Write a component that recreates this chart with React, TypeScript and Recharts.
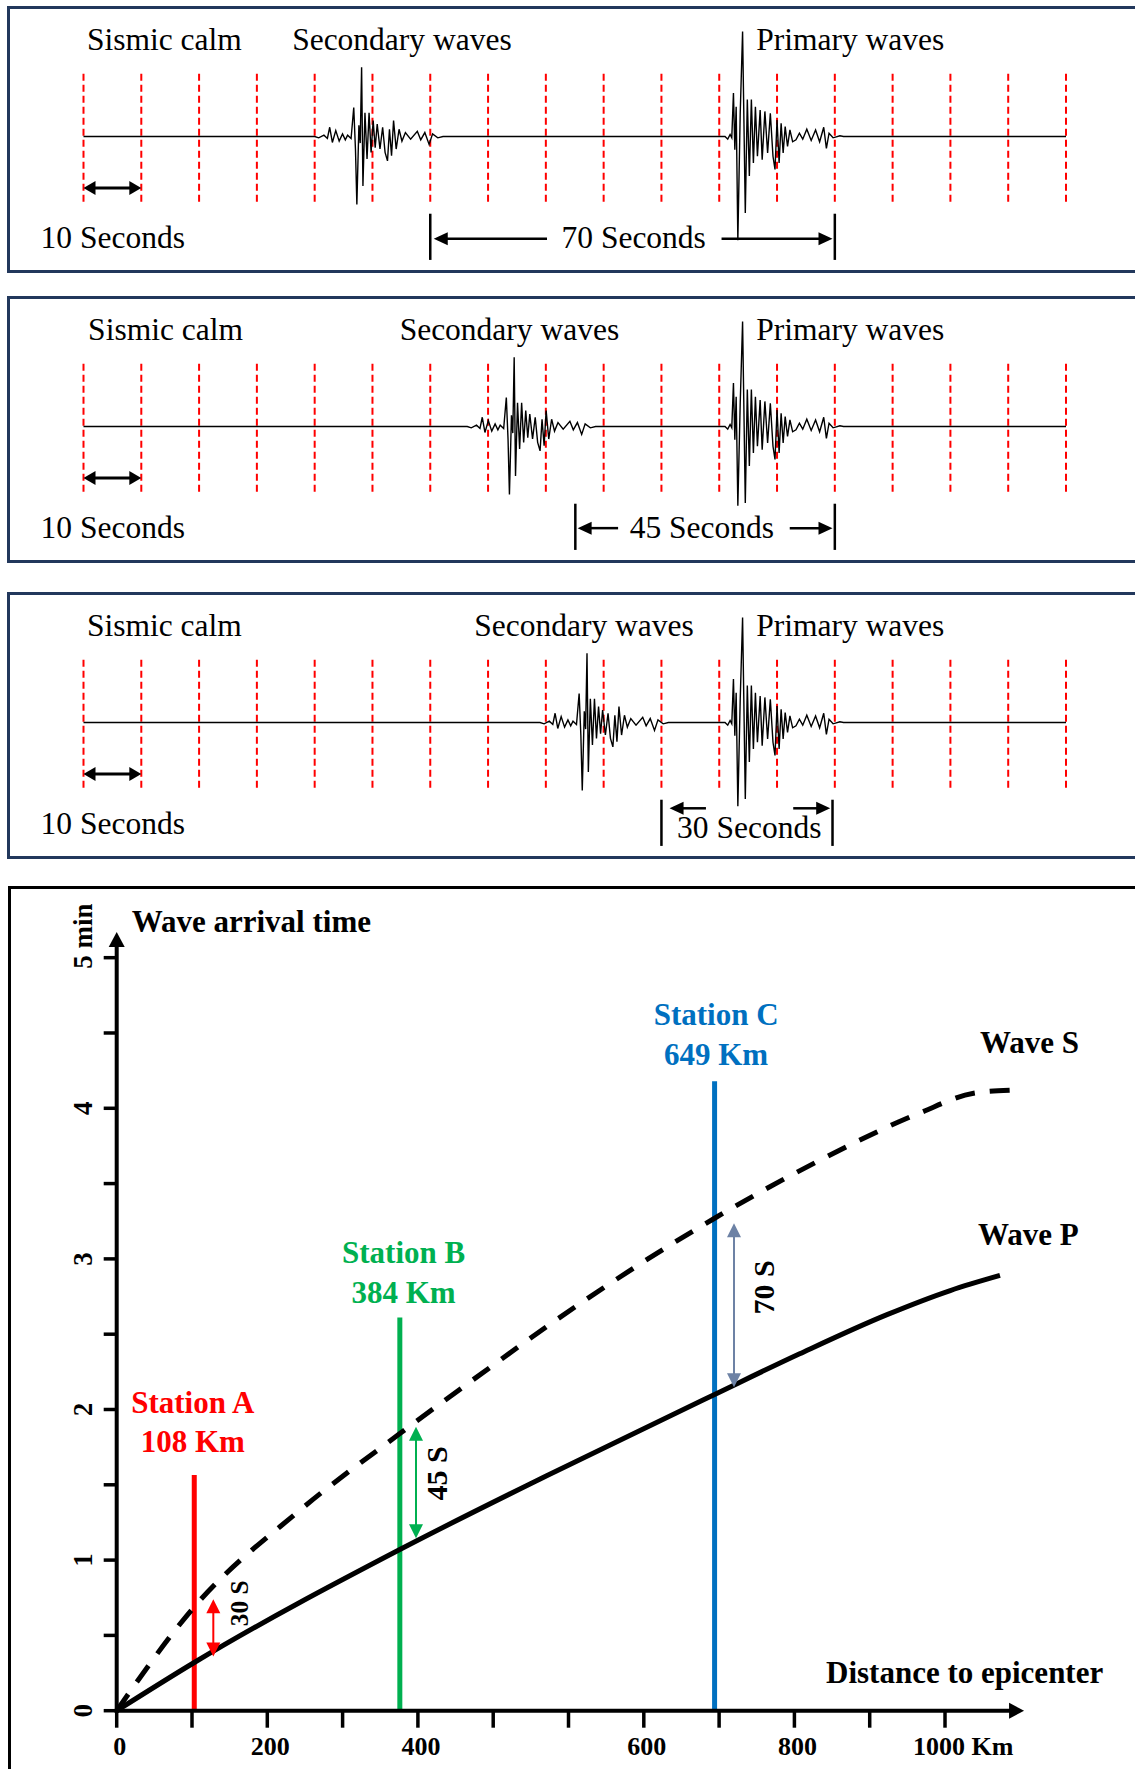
import React from 'react'
import { LineChart, Line, XAxis, YAxis, ReferenceLine, ReferenceDot } from 'recharts'

const SERIF = '"Liberation Serif", "Times New Roman", serif'

// ---------- seismograms (time in seconds, 10 s between red guides)
const gridTimes = [0, 10, 20, 30, 40, 50, 60, 70, 80, 90, 100, 110, 120, 130, 140, 150, 160, 170]
const traceEnd = 170

// S wave packet: offset from onset (s) and amplitude
const sBurstOffset = [0, 0.7, 1.6, 2.2, 2.6, 3.06, 3.65, 4.24, 4.82, 5.3, 5.7, 6.3, 6.76, 7.06, 7.3, 7.65, 7.88, 8.12, 8.35, 8.7, 9.06, 9.41, 9.76, 10.12, 10.47, 10.82, 11.3, 11.76, 12.18, 12.6, 12.94, 13.3, 13.65, 14.1, 14.6, 15.1, 15.7, 16.6, 17.76, 18.35, 19.06, 19.8, 20.4, 21.3, 22.2]
const sBurstAmp = [0, -0.02, 0.02, -0.03, 0.14, -0.09, 0.09, -0.07, 0.04, -0.05, 0.02, -0.03, 0.44, -0.2, -1.03, 0.17, -0.1, 1.05, -0.75, 0.36, -0.34, 0.36, -0.24, 0.24, -0.17, 0.19, -0.19, 0.14, -0.24, -0.37, 0.11, -0.29, 0.24, -0.19, 0.11, -0.07, 0.06, -0.04, 0.08, -0.05, 0.06, -0.12, 0.04, -0.02, 0]

// P wave packet
const pBurstOffset = [0, 0.47, 0.88, 1.17, 1.46, 1.7, 1.93, 2.22, 2.63, 3.04, 3.51, 3.86, 4.21, 4.56, 4.91, 5.26, 5.61, 6.08, 6.43, 6.9, 7.37, 7.84, 8.3, 8.65, 9.0, 9.36, 9.71, 10.06, 10.41, 10.82, 11.23, 11.7, 12.28, 12.87, 13.45, 14.15, 14.91, 15.67, 16.37, 17.08, 17.54, 18.0, 18.7, 19.88, 20.5]
const pBurstAmp = [0, -0.04, 0.03, -0.02, 0.66, -0.2, 0.45, -1.3, 0.35, 1.59, -1.16, 0.56, -0.6, 0.56, -0.4, 0.45, -0.3, 0.4, -0.35, 0.38, -0.25, 0.35, -0.3, -0.5, 0.25, -0.4, 0.2, -0.25, 0.15, -0.15, 0.1, -0.08, -0.05, 0.05, -0.04, 0.11, -0.06, 0.1, -0.08, 0.14, -0.18, 0.05, -0.02, 0.01, 0]
// deepest P trough per station record (replaces the template trough)
const pTroughIndex = 7
const pTrough = [-1.57, -1.2, -1.27]

const pOnset = 111
const sOnsets = [40, 66.4, 79]
const calmT = [0.6, 0.8, 0.6]
const secondaryT = [36.1, 54.7, 67.6]
const primaryT = 116.4
const gapLabels = ['70 Seconds', '45 Seconds', '30 Seconds']
const gapStart = [60, 85.1, 100]
const gapEnd = [130, 130, 129.6]
const gapLeftArrow = [[80.2, 60.6], [92.5, 85.5], [107.7, 101.4]]
const gapRightArrow = [[110.4, 129.6], [122.2, 129.6], [122.8, 129.2]]
const gapArrowAmp = [-1.55, -1.54, -1.3]
const gapTextT = [95.2, 107, 115.2]
const gapTextAmp = [-1.69, -1.69, -1.755]

// ---------- travel-time graph (x in drawn km units, y in minutes)
const pDist = [0, 103, 376, 571, 794, 907, 1023, 1107, 1173]
const pTime = [0, 0.32, 1.07, 1.56, 2.1, 2.37, 2.63, 2.79, 2.89]
const sDist = [0, 103, 243, 376, 496, 571, 794, 930, 1067, 1138, 1186]
const sTime = [0, 0.69, 1.33, 1.84, 2.28, 2.55, 3.27, 3.645, 3.97, 4.1, 4.12]

const stationNames = ['Station A', 'Station B', 'Station C']
const stationKm = [108, 384, 649]
const stationPos = [103, 376, 794]
const stationTop = [1.565, 2.61, 4.18]
const stationColors = ['#ff0000', '#00b050', '#0070c0']
const stationLabelX = [101, 381, 796]
const stationLabelY = [1.72, 2.71, 4.29]

const lagSeconds = [30, 45, 70]
const lagX = [128.3, 397.5, 819.8]
const lagFrom = [0.36, 1.145, 2.147]
const lagTo = [0.74, 1.886, 3.236]
const lagColors = ['#ff0000', '#00b050', '#6d82a5']
const lagTextX = [162.7, 424.9, 858.6]
const lagTextY = [0.713, 1.576, 2.81]

const yTicks = [0, 0.5, 1, 1.5, 2, 2.5, 3, 3.5, 4, 4.5, 5]
const xTicks = [0, 100, 200, 300, 400, 500, 600, 700, 800, 900, 1000, 1100]
const xLabelTicks = [0, 200, 400, 700, 900, 1100]
const xLabelTexts = ['0', '200', '400', '600', '800', '1000 Km']

const panelTops = [0, 290, 586]

function arrow(color: string, lw: number, hl: number, hw: number, both: boolean, cap = 'butt') {
  return (p: any) => {
    const { x1, y1, x2, y2 } = p
    const dx = x2 - x1
    const dy = y2 - y1
    const len = Math.hypot(dx, dy) || 1
    const ux = dx / len
    const uy = dy / len
    const nx = -uy
    const ny = ux
    const head = (tx: number, ty: number, sx: number, sy: number) => {
      const bx = tx - sx * hl
      const by = ty - sy * hl
      return `${tx},${ty} ${bx + nx * hw},${by + ny * hw} ${bx - nx * hw},${by - ny * hw}`
    }
    const sx = both ? x1 + ux * hl * 0.8 : x1
    const sy = both ? y1 + uy * hl * 0.8 : y1
    return (
      <g>
        <line x1={sx} y1={sy} x2={x2 - ux * hl * 0.8} y2={y2 - uy * hl * 0.8} stroke={color} strokeWidth={lw} strokeLinecap={cap as any} />
        <polygon points={head(x2, y2, ux, uy)} fill={color} />
        {both && <polygon points={head(x1, y1, -ux, -uy)} fill={color} />}
      </g>
    )
  }
}

function note(label: string, o: { size: number; bold?: boolean; color?: string; anchor?: string; rotate?: boolean }) {
  return (p: any) => (
    <text
      x={p.cx}
      y={p.cy}
      fontFamily={SERIF}
      fontSize={o.size}
      fontWeight={o.bold ? 'bold' : 'normal'}
      fill={o.color || '#000'}
      textAnchor={(o.anchor || 'start') as any}
      dominantBaseline={o.rotate ? 'central' : 'alphabetic'}
      transform={o.rotate ? `rotate(-90 ${p.cx} ${p.cy})` : undefined}
    >
      {label}
    </text>
  )
}

function traceFor(k: number) {
  const pts = [{ t: 0, a: 0 }]
  sBurstOffset.forEach((o, i) => pts.push({ t: sOnsets[k] + o, a: sBurstAmp[i] }))
  pBurstOffset.forEach((o, i) => pts.push({ t: pOnset + o, a: i === pTroughIndex ? pTrough[k] : pBurstAmp[i] }))
  pts.push({ t: traceEnd, a: 0 })
  return pts
}

function Seismogram({ k }: { k: number }) {
  const data = traceFor(k)
  const txt = 31.5
  return (
    <div style={{ position: 'absolute', left: 0, top: panelTops[k] }}>
      <LineChart width={1135} height={272} data={data} margin={{ top: 4.5, right: 69, bottom: 3.5, left: 83.5 }}>
        <XAxis type="number" dataKey="t" domain={[0, traceEnd]} hide />
        <YAxis type="number" domain={[-2, 2]} hide />
        {gridTimes.map((t) => (
          <ReferenceLine key={'g' + t} segment={[{ x: t, y: 0.95 }, { x: t, y: -1.03 }]} stroke="#ff0000" strokeWidth={2} strokeDasharray="7 4" />
        ))}
        <Line dataKey="a" type="linear" stroke="#000" strokeWidth={1.4} dot={false} isAnimationActive={false} />
        <ReferenceLine segment={[{ x: 0, y: -0.78 }, { x: 10, y: -0.78 }]} shape={arrow('#000', 3, 12, 7, true)} />
        <ReferenceLine segment={[{ x: gapStart[k], y: -1.17 }, { x: gapStart[k], y: -1.87 }]} stroke="#000" strokeWidth={2.5} />
        <ReferenceLine segment={[{ x: gapEnd[k], y: -1.17 }, { x: gapEnd[k], y: -1.87 }]} stroke="#000" strokeWidth={2.5} />
        <ReferenceLine segment={[{ x: gapLeftArrow[k][0], y: gapArrowAmp[k] }, { x: gapLeftArrow[k][1], y: gapArrowAmp[k] }]} shape={arrow('#000', 2.5, 14, 6.5, false)} />
        <ReferenceLine segment={[{ x: gapRightArrow[k][0], y: gapArrowAmp[k] }, { x: gapRightArrow[k][1], y: gapArrowAmp[k] }]} shape={arrow('#000', 2.5, 14, 6.5, false)} />
        <ReferenceDot x={calmT[k]} y={1.317} r={0} ifOverflow="visible" shape={note('Sismic calm', { size: txt })} />
        <ReferenceDot x={secondaryT[k]} y={1.317} r={0} ifOverflow="visible" shape={note('Secondary waves', { size: txt })} />
        <ReferenceDot x={primaryT} y={1.317} r={0} ifOverflow="visible" shape={note('Primary waves', { size: txt })} />
        <ReferenceDot x={-7.42} y={-1.69} r={0} ifOverflow="visible" shape={note('10 Seconds', { size: txt })} />
        <ReferenceDot x={gapTextT[k]} y={gapTextAmp[k]} r={0} ifOverflow="visible" shape={note(gapLabels[k], { size: txt, anchor: 'middle' })} />
      </LineChart>
    </div>
  )
}

function xTick(p: any) {
  const i = xLabelTicks.indexOf(p.payload.value)
  if (i < 0) return <g />
  const last = i === xLabelTicks.length - 1
  return (
    <text x={last ? p.x - 32 : p.x + 3} y={p.y} dy={25} textAnchor={last ? 'start' : 'middle'} fontFamily={SERIF} fontWeight="bold" fontSize={26} fill="#000">
      {xLabelTexts[i]}
    </text>
  )
}

function yTick(p: any) {
  const v = p.payload.value
  if (v % 1 !== 0) return <g />
  const cx = p.x - 18.4
  const cy = v === 5 ? p.y + 11 : p.y
  return (
    <text x={cx} y={cy} transform={`rotate(-90 ${cx} ${cy})`} textAnchor={v === 5 ? 'start' : 'middle'} dominantBaseline="central" fontFamily={SERIF} fontWeight="bold" fontSize={27} fill="#000">
      {v === 5 ? '5 min' : String(v)}
    </text>
  )
}

function TravelTimeGraph() {
  const pData = pDist.map((d, i) => ({ d, t: pTime[i] }))
  const sData = sDist.map((d, i) => ({ d, t: sTime[i] }))
  return (
    <div style={{ position: 'absolute', left: 0, top: 880 }}>
      <LineChart width={1135} height={889} margin={{ top: 32.5, right: 92.1, bottom: 0, left: 0 }}>
        <XAxis type="number" dataKey="d" domain={[0, 1230]} ticks={xTicks} interval={0} height={58.3} tickSize={17} tickMargin={2} axisLine={false} stroke="#000" tickLine={{ stroke: '#000', strokeWidth: 3.5 }} tick={xTick} />
        <YAxis type="number" dataKey="t" domain={[0, 5.3]} ticks={yTicks} interval={0} width={116.7} tickSize={13} tickMargin={2} axisLine={false} stroke="#000" tickLine={{ stroke: '#000', strokeWidth: 3.5 }} tick={yTick} />
        {stationPos.map((x, i) => (
          <ReferenceLine key={'st' + i} segment={[{ x, y: 0 }, { x, y: stationTop[i] }]} stroke={stationColors[i]} strokeWidth={5} />
        ))}
        <Line data={sData} dataKey="t" type="monotone" stroke="#000" strokeWidth={5} strokeDasharray="20 15" dot={false} isAnimationActive={false} />
        <Line data={pData} dataKey="t" type="monotone" stroke="#000" strokeWidth={5} dot={false} isAnimationActive={false} />
        <ReferenceLine segment={[{ x: 0, y: 0 }, { x: 0, y: 5.17 }]} shape={arrow('#000', 4, 15, 8, false, 'square')} />
        <ReferenceLine segment={[{ x: 0, y: 0 }, { x: 1205, y: 0 }]} shape={arrow('#000', 4, 15, 8, false, 'square')} />
        {lagX.map((x, i) => (
          <ReferenceLine key={'lag' + i} segment={[{ x, y: lagFrom[i] }, { x, y: lagTo[i] }]} shape={arrow(lagColors[i], 2, 14, 7, true)} />
        ))}
        {lagSeconds.map((s, i) => (
          <ReferenceDot key={'lt' + i} x={lagTextX[i]} y={lagTextY[i]} r={0} ifOverflow="visible" shape={note(`${s} S`, { size: i === 0 ? 25.5 : 30, bold: true, anchor: 'middle', rotate: true })} />
        ))}
        {stationNames.map((n, i) => (
          <ReferenceDot key={'sn' + i} x={stationLabelX[i]} y={stationLabelY[i] + 0.26} r={0} ifOverflow="visible" shape={note(n, { size: 31, bold: true, anchor: 'middle', color: stationColors[i] })} />
        ))}
        {stationKm.map((km, i) => (
          <ReferenceDot key={'sk' + i} x={stationLabelX[i]} y={stationLabelY[i]} r={0} ifOverflow="visible" shape={note(`${km} Km`, { size: 31, bold: true, anchor: 'middle', color: stationColors[i] })} />
        ))}
        <ReferenceDot x={19.9} y={5.173} r={0} ifOverflow="visible" shape={note('Wave arrival time', { size: 31, bold: true })} />
        <ReferenceDot x={942} y={0.184} r={0} ifOverflow="visible" shape={note('Distance to epicenter', { size: 31, bold: true })} />
        <ReferenceDot x={1146.5} y={4.367} r={0} ifOverflow="visible" shape={note('Wave S', { size: 31, bold: true })} />
        <ReferenceDot x={1143.8} y={3.092} r={0} ifOverflow="visible" shape={note('Wave P', { size: 31, bold: true })} />
      </LineChart>
    </div>
  )
}

export default function App() {
  return (
    <div style={{ position: 'absolute', left: 0, top: 0, width: 1135, height: 1769, overflow: 'hidden', background: '#fff' }}>
      {panelTops.map((t, k) => (
        <div key={'box' + k} style={{ position: 'absolute', left: 7, top: 5.5 + t, width: 1140, height: 267, border: '3px solid #22385c', boxSizing: 'border-box' }} />
      ))}
      <div style={{ position: 'absolute', left: 7.5, top: 886, width: 1140, height: 900, border: '3px solid #000', boxSizing: 'border-box' }} />
      {panelTops.map((_, k) => (
        <Seismogram key={'s' + k} k={k} />
      ))}
      <TravelTimeGraph />
    </div>
  )
}
